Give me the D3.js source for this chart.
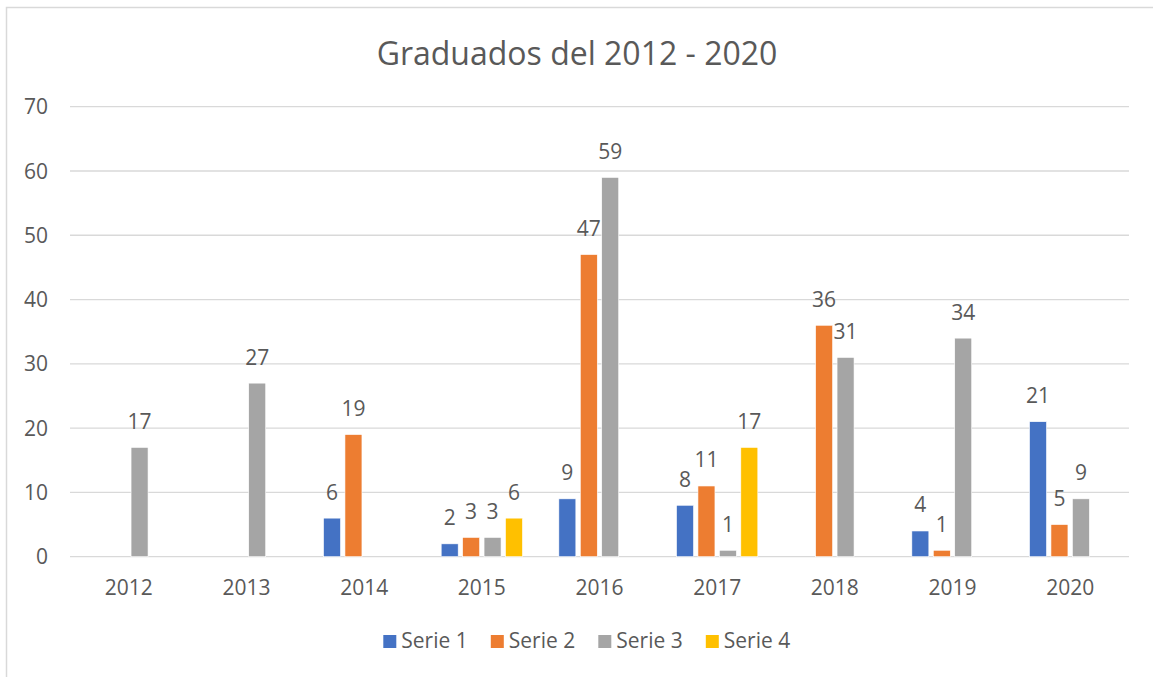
<!DOCTYPE html>
<html>
<head>
<meta charset="utf-8">
<script src="https://cdn.jsdelivr.net/npm/d3@7"></script>
<style>
  body { margin: 0; background: #fff; }
  text { font-family: "Open Sans", sans-serif; fill: #595959; }
</style>
</head>
<body>
<svg id="chart"></svg>
<script>
// values (null = no bar)
const years = ["2012", "2013", "2014", "2015", "2016", "2017", "2018", "2019", "2020"];
const seriesNames = ["Serie 1", "Serie 2", "Serie 3", "Serie 4"];
const serie1 = [null, null, 6, 2, 9, 8, null, 4, 21];
const serie2 = [null, null, 19, 3, 47, 11, 36, 1, 5];
const serie3 = [17, 27, null, 3, 59, 1, 31, 34, 9];
const serie4 = [null, null, null, 6, null, 17, null, null, null];
const yTicks = [0, 10, 20, 30, 40, 50, 60, 70];
const colors = ["#4472C4", "#ED7D31", "#A5A5A5", "#FFC000"];

const allSeries = [serie1, serie2, serie3, serie4];
const W = 1153, H = 677;
const plot = { left: 70, right: 1129, top: 106.7, bottom: 556.7 };

const svg = d3.select("#chart").attr("width", W).attr("height", H);

// outer chart border
svg.append("rect")
    .attr("x", 6.5).attr("y", 7.5)
    .attr("width", 1160).attr("height", 700)
    .attr("fill", "none")
    .attr("stroke", "#d9d9d9")
    .attr("stroke-width", 1.5);

svg.append("text")
    .attr("x", 577).attr("y", 65)
    .attr("text-anchor", "middle")
    .attr("font-size", 32)
    .text("Graduados del 2012 - 2020");

const x0 = d3.scaleBand().domain(years).range([plot.left, plot.right]);
const inner = (x0.bandwidth() - 81.3) / 2;
const x1 = d3.scaleBand().domain(seriesNames)
    .range([inner, x0.bandwidth() - inner])
    .paddingInner(0.207);
const y = d3.scaleLinear().domain([0, 70]).range([plot.bottom, plot.top]);

// gridlines
svg.append("g").selectAll("line")
    .data(yTicks)
    .join("line")
    .attr("x1", plot.left).attr("x2", plot.right)
    .attr("y1", d => y(d)).attr("y2", d => y(d))
    .attr("stroke", "#d9d9d9")
    .attr("stroke-width", 1.3);

// y axis labels
svg.append("g").selectAll("text")
    .data(yTicks)
    .join("text")
    .attr("x", 48).attr("y", d => y(d))
    .attr("dy", "0.36em")
    .attr("text-anchor", "end")
    .attr("font-size", 21)
    .text(d => d);

// x axis labels
svg.append("g").selectAll("text")
    .data(years)
    .join("text")
    .attr("x", d => x0(d) + x0.bandwidth() / 2)
    .attr("y", 595)
    .attr("text-anchor", "middle")
    .attr("font-size", 21)
    .text(d => d);

const bars = [];
allSeries.forEach((vals, si) => {
    vals.forEach((v, i) => {
        if (v !== null) bars.push({ year: years[i], series: seriesNames[si], si: si, value: v });
    });
});

const g = svg.append("g");
g.selectAll("rect")
    .data(bars)
    .join("rect")
    .attr("x", d => x0(d.year) + x1(d.series))
    .attr("y", d => y(d.value))
    .attr("width", x1.bandwidth())
    .attr("height", d => y(0) - y(d.value))
    .attr("fill", d => colors[d.si])
    .attr("stroke", "#ffffff")
    .attr("stroke-width", 0.6);

g.selectAll("text")
    .data(bars)
    .join("text")
    .attr("x", d => x0(d.year) + x1(d.series) + x1.bandwidth() / 2)
    .attr("y", d => y(d.value) - 18.5)
    .attr("text-anchor", "middle")
    .attr("font-size", 21)
    .text(d => d.value);

// legend
const legend = svg.append("g").selectAll("g")
    .data(seriesNames)
    .join("g")
    .attr("transform", (d, i) => `translate(${383.3 + i * 107.5}, 635)`);
legend.append("rect")
    .attr("width", 13).attr("height", 13)
    .attr("fill", (d, i) => colors[i]);
legend.append("text")
    .attr("x", 18).attr("y", 13)
    .attr("font-size", 21)
    .text(d => d);
</script>
</body>
</html>
